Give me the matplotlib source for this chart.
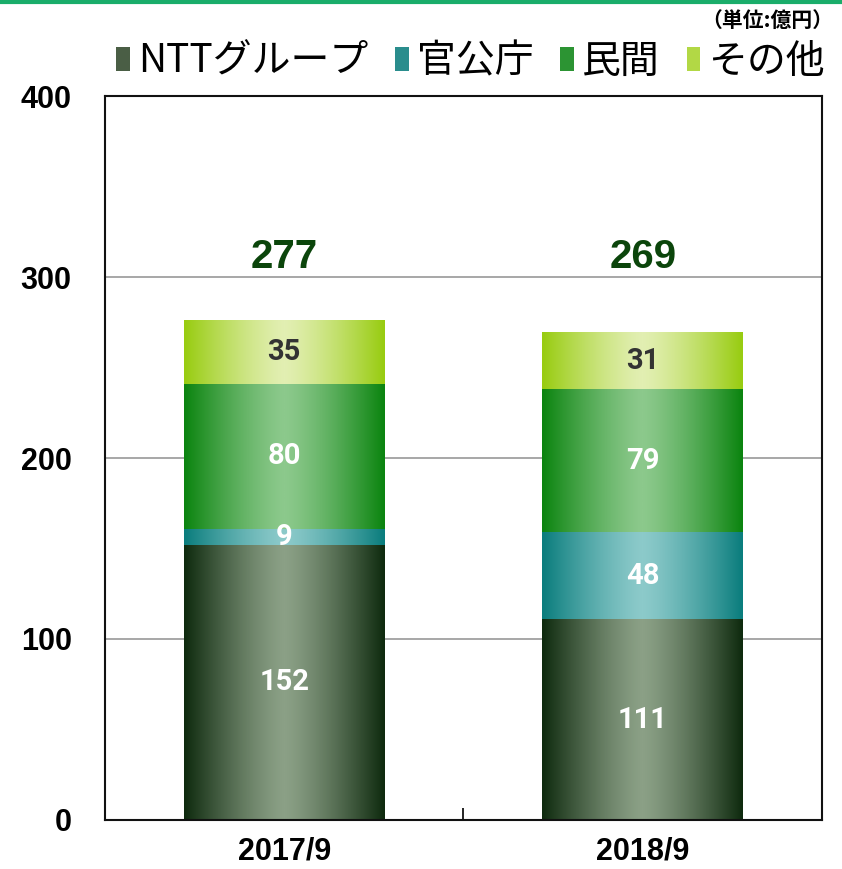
import numpy as np
import matplotlib.pyplot as plt
from matplotlib.colors import LinearSegmentedColormap
from matplotlib.patches import Rectangle
from matplotlib.lines import Line2D

plt.rcParams['font.family'] = ['Noto Sans CJK JP', 'DejaVu Sans']

# data
periods = ['2017/9', '2018/9']
series = ['NTTグループ', '官公庁', '民間', 'その他']
ntt = [152, 111]
gov = [9, 48]
private = [80, 79]
other = [35, 31]
totals = [277, 269]

# edge colour, centre colour, legend colour, label colour
styles = [
    ('#0e2a0e', '#8ba086', '#4a5e45', 'white'),
    ('#0a7d7d', '#8ccaca', '#2a8d8d', 'white'),
    ('#0b840f', '#8cc98c', '#2c9433', 'white'),
    ('#98cc10', '#e2efb2', '#b2d845', '#333333'),
]

fig = plt.figure(figsize=(8.42, 8.69), dpi=100)
ax = fig.add_axes([0.1247, 0.0564, 0.8515, 0.8331])

x = np.arange(len(periods))
width = 0.56
grad = np.abs(np.linspace(-1, 1, 256)) ** 1.3
grad = grad.reshape(1, -1)

bottoms = np.zeros(len(periods))
for vals, (edge, centre, _, tcol) in zip([ntt, gov, private, other], styles):
    cmap = LinearSegmentedColormap.from_list('g', [centre, edge])
    for i, v in enumerate(vals):
        x0 = x[i] - width / 2
        ax.imshow(grad, cmap=cmap, vmin=0, vmax=1, aspect='auto',
                  extent=(x0, x0 + width, bottoms[i], bottoms[i] + v),
                  interpolation='bilinear', zorder=2)
        ax.text(x[i], bottoms[i] + v / 2, str(v), ha='center', va='center',
                color=tcol, fontsize=21, fontweight='bold',
                family=['Roboto', 'Liberation Sans', 'DejaVu Sans'], zorder=3)
    bottoms += np.array(vals)

for i, t in enumerate(totals):
    ax.text(x[i], 311, str(t), ha='center', va='center', color='#0b450b',
            fontsize=29, fontweight='bold',
            family=['Liberation Sans', 'DejaVu Sans'], zorder=3)

ax.set_xlim(-0.5, 1.5)
ax.set_ylim(0, 400)
ax.set_yticks([0, 100, 200, 300, 400])
ax.set_xticks(x)
ax.set_xticklabels(periods)
ax.set_xticks([0.5], minor=True)
ax.tick_params(axis='x', which='major', length=0, pad=12)
ax.tick_params(axis='x', which='minor', direction='in', length=9, width=1.2)
ax.tick_params(axis='y', length=0, pad=24)
for lab in ax.get_xticklabels() + ax.get_yticklabels():
    lab.set_family(['Liberation Sans', 'DejaVu Sans'])
    lab.set_fontweight('bold')
    lab.set_fontsize(22)
for y in [100, 200, 300]:
    ax.axhline(y, color='#a0a0a0', lw=1.3, zorder=1)
for s in ax.spines.values():
    s.set_linewidth(1.5)
    s.set_color('#111111')
    s.set_zorder(4)

handles = [Rectangle((0, 0), 1, 1, facecolor=st[2]) for st in styles]
fig.legend(handles, series, loc='center right', bbox_to_anchor=(0.998, 0.929),
           ncol=4, frameon=False, fontsize=28, handlelength=0.35,
           handleheight=0.55, handletextpad=0.2, columnspacing=0.7,
           borderaxespad=0)

fig.text(0.99, 0.977, '（単位:億円）', ha='right', va='center', fontsize=15,
         fontweight='bold')

fig.add_artist(Line2D([0, 0.998], [0.998, 0.998], color='#1aad6a', lw=3,
                      transform=fig.transFigure))

fig.savefig('out.png', dpi=100)
